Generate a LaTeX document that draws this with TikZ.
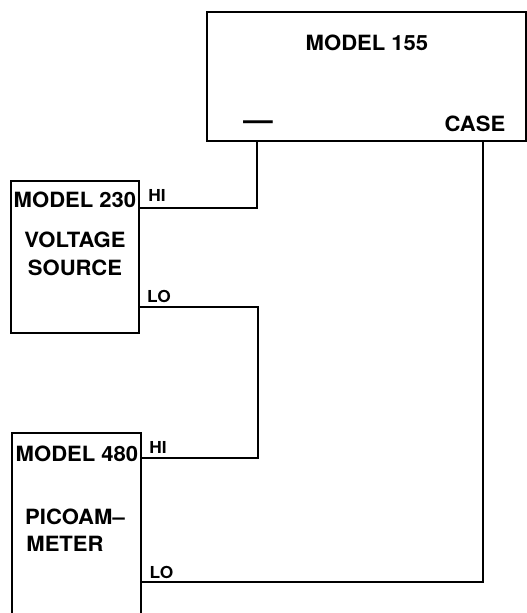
\documentclass[tikz,border=0pt]{standalone}
\usepackage{fontspec}
\setmainfont{TeX Gyre Heros}[FakeStretch=1.05]
\usepackage{tikz}

\begin{document}
\begin{tikzpicture}
  [x=1pt,y=-1pt,line width=1.5pt,
   every node/.style={inner sep=0pt,font=\bfseries\fontsize{21}{21}\selectfont},
   unit/.style={draw,rectangle,line width=1.5pt},
   pin/.style={font=\bfseries\fontsize{16.5}{16.5}\selectfont}]
  \clip (0,0) rectangle (527,613);

  % instruments
  \node[unit,minimum width=319pt,minimum height=129pt] (m155) at (366.5,76.5) {};
  \node[unit,minimum width=128pt,minimum height=152pt] (m230) at (75,257) {};
  \node[unit,minimum width=129pt,minimum height=220pt] (m480) at (76.5,543) {};

  \node (t155) at (367,43) {MODEL 155};
  \node (neg) at (258,125) {\fontsize{28}{28}\selectfont\textemdash};
  \node (case) at (475,124) {CASE};
  \node (t230) at (75,200) {MODEL 230};
  \node (volt) at (75,240) {VOLTAGE};
  \node (src) at (75,268) {SOURCE};
  \node (t480) at (77,454) {MODEL 480};
  \node (pico) at (75,517) {PICOAM--};
  \node (met) at (65,544) {METER};

  \node[pin] (hia) at (157,195.5) {HI};
  \node[pin] (loa) at (159,296) {LO};
  \node[pin] (hib) at (158,447) {HI};
  \node[pin] (lob) at (161.5,572) {LO};

  % terminals
  \coordinate (pneg) at (257,141);
  \coordinate (pcase) at (483,141);
  \coordinate (ahi) at (139,208);
  \coordinate (alo) at (139,307);
  \coordinate (bhi) at (141,458);
  \coordinate (blo) at (141,582);
  \coordinate (bend) at (258,307);

  \draw (ahi) -| (pneg);
  \draw (alo) -- (bend) |- (bhi);
  \draw (blo) -| (pcase);

\end{tikzpicture}
\end{document}
